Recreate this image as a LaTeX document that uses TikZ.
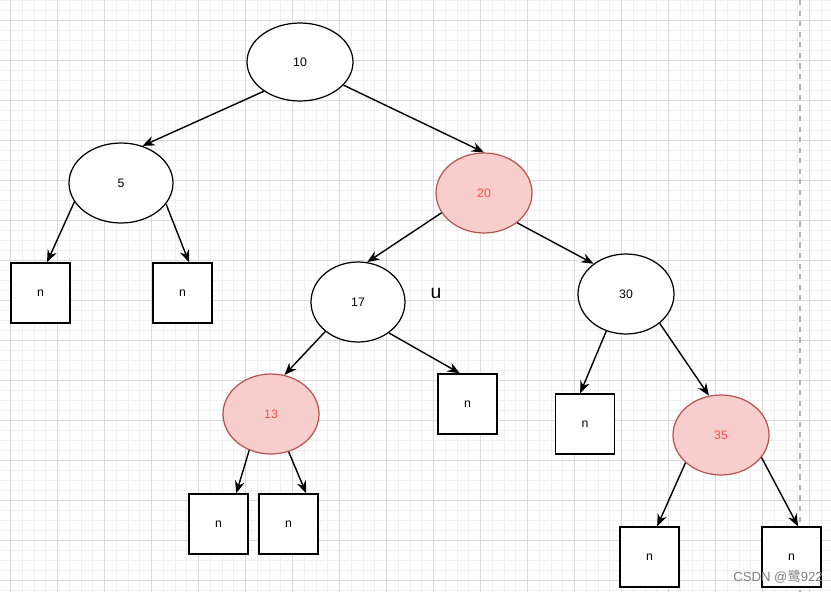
\documentclass[tikz,border=0pt]{standalone}
\usepackage{fontspec}
\setmainfont{Liberation Sans}
\newfontfamily\cjk{Noto Sans CJK SC}
\usetikzlibrary{shapes.geometric, arrows.meta, positioning}
\definecolor{redfill}{HTML}{F8CECC}
\definecolor{redline}{HTML}{B85450}
\definecolor{redtext}{HTML}{FF5050}
\definecolor{minorgrid}{HTML}{F0F0F0}
\definecolor{majorgrid}{HTML}{DADADA}

\begin{document}
\begin{tikzpicture}[
        x=0.02cm, y=-0.02cm,
        font=\fontsize{7}{8}\selectfont,
        keynode/.style={draw, ellipse, line width=0.7pt, fill=white, inner sep=0pt, minimum width=1.92cm, minimum height=1.6cm},
        rednode/.style={keynode, draw=redline, fill=redfill, text=redtext},
        nilbox/.style={draw, line width=0.8pt, fill=white, minimum width=1.18cm, minimum height=1.2cm},
        arr/.style={-{Stealth[length=7pt, width=5.5pt]}, line width=0.8pt}
    ]
        \useasboundingbox (0,0) rectangle (831,592);
        \fill[white] (0,0) rectangle (831,592);

        % grid
        \foreach \i in {0,...,70} {
            \draw[minorgrid, line width=0.5pt] ({10.5+11.75*\i},0) -- ({10.5+11.75*\i},592);
        }
        \foreach \i in {0,...,59} {
            \draw[minorgrid, line width=0.5pt] (0,{0.5+10*\i}) -- (831,{0.5+10*\i});
        }
        \foreach \i in {0,...,17} {
            \draw[majorgrid, line width=0.5pt] ({10.5+47*\i},0) -- ({10.5+47*\i},592);
        }
        \foreach \i in {0,...,14} {
            \draw[majorgrid, line width=0.5pt] (0,{20.5+40*\i}) -- (831,{20.5+40*\i});
        }
        \coordinate (dtop) at (800,0);
        \coordinate (dbot) at (800,592);
        \draw[gray!60, dashed, line width=0.6pt] (dtop) -- (dbot);

        \node[keynode, minimum width=2.12cm, minimum height=1.56cm] (k10) at (300,62) {10};
        \node[keynode, minimum width=2.08cm] (k5)  at (121,183) {5};
        \node[rednode] (k20) at (484,193) {20};
        \node[keynode, minimum width=1.88cm] (k17) at (358,302) {17};
        \node[keynode] (k30) at (626,294) {30};
        \node[rednode] (k13) at (271,414) {13};
        \node[rednode] (k35) at (721,435) {35};

        \node[nilbox] (n5a)  at (40.5,293)  {n};
        \node[nilbox] (n5b)  at (182.5,293) {n};
        \node[nilbox] (n17)  at (467.5,404) {n};
        \node[nilbox] (n13a) at (218.5,524) {n};
        \node[nilbox] (n13b) at (288.5,524) {n};
        \node[nilbox] (n30)  at (585,424)   {n};
        \node[nilbox] (n35a) at (649.5,557) {n};
        \node[nilbox] (n35b) at (791.5,557) {n};

        \node[font=\fontsize{11}{12}\selectfont] (lblu) at (436,293) {u};
        \node[gray, font=\fontsize{7.5}{9}\selectfont, anchor=east] (mark) at (829,577) {CSDN @{\cjk 鹭}922};

        \draw[arr] (k10.-141) -- (k5.60);
        \draw[arr] (k10.-28)  -- (k20.90);
        \draw[arr] (k5.-158)  -- (n5a.78);
        \draw[arr] (k5.-25)   -- (n5b.78);
        \draw[arr] (k20.-155) -- (k17.77);
        \draw[arr] (k20.-42)  -- (k30.137);
        \draw[arr] (k17.-138) -- (k13.71);
        \draw[arr] (k17.-45)  -- (n17.104);
        \draw[arr] (k13.-121) -- (n13a.60);
        \draw[arr] (k13.-65)  -- (n13b.60);
        \draw[arr] (k30.-118) -- (n30.99);
        \draw[arr] (k30.-41)  -- (k35.107);
        \draw[arr] (k35.-142) -- (n35a.76);
        \draw[arr] (k35.-29)  -- (n35b.78);
    \end{tikzpicture}
\end{document}
